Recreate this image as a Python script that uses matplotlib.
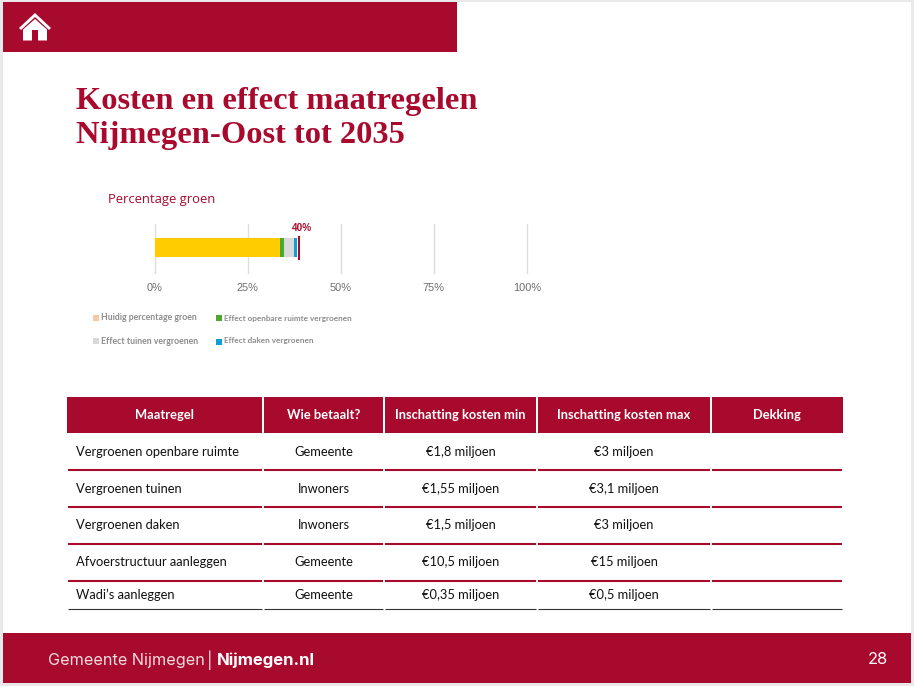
import matplotlib
matplotlib.use("Agg")
import matplotlib.pyplot as plt
from matplotlib.patches import Polygon, Rectangle

RED = "#A80A2D"
W, H = 914, 686

# chart data
segment_names = ["Huidig percentage groen (rand)", "Huidig percentage groen",
                 "Effect openbare ruimte vergroenen", "Effect tuinen vergroenen",
                 "Effect daken vergroenen"]
segment_values = [0.2, 33.5, 1.1, 2.7, 0.8]
segment_colors = ["#F6C6A8", "#FFCC00", "#4EA72E", "#D9D9D9", "#0F9ED5"]
target_value = 38.8
target_label = "40%"
x_ticks = [0, 25, 50, 75, 100]
x_tick_labels = ["0%", "25%", "50%", "75%", "100%"]

legend_labels = ["Huidig percentage groen", "Effect openbare ruimte vergroenen",
                 "Effect tuinen vergroenen", "Effect daken vergroenen"]
legend_colors = ["#F6C6A8", "#4EA72E", "#D9D9D9", "#0F9ED5"]

# table data
table_header = ["Maatregel", "Wie betaalt?", "Inschatting kosten min",
                "Inschatting kosten max", "Dekking"]
measures = ["Vergroenen openbare ruimte", "Vergroenen tuinen", "Vergroenen daken",
            "Afvoerstructuur aanleggen", "Wadi\u2019s aanleggen"]
payers = ["Gemeente", "Inwoners", "Inwoners", "Gemeente", "Gemeente"]
cost_min = ["\u20ac1,8 miljoen", "\u20ac1,55 miljoen", "\u20ac1,5 miljoen",
            "\u20ac10,5 miljoen", "\u20ac0,35 miljoen"]
cost_max = ["\u20ac3 miljoen", "\u20ac3,1 miljoen", "\u20ac3 miljoen",
            "\u20ac15 miljoen", "\u20ac0,5 miljoen"]

col_edges = [67, 263, 384, 537, 711, 843]
row_lines = [433, 470, 507, 544, 581, 609]
row_text_y = [452, 489, 525, 562, 595]


def px(size):
    # font size in pixels to points at dpi 100
    return size * 0.72


fig = plt.figure(figsize=(W / 100, H / 100), dpi=100, facecolor="#E9E9E9")

# slide canvas in pixel coordinates
slide = fig.add_axes([0, 0, 1, 1])
slide.set_xlim(0, W)
slide.set_ylim(H, 0)
slide.axis("off")

slide.add_patch(Rectangle((3, 2), 908, 681, color="white", lw=0))
slide.add_patch(Rectangle((3, 2), 454, 50, color=RED, lw=0))
slide.add_patch(Rectangle((3, 633), 908, 50, color=RED, lw=0))

# home icon
slide.add_patch(Polygon([(19, 28), (35, 13), (51, 28), (49, 30), (35, 17), (21, 30)],
                        color="white", lw=0))
slide.add_patch(Polygon([(23, 29.5), (35, 19), (47, 29.5), (47, 40.5), (38, 40.5), (38, 30),
                         (32, 30), (32, 40.5), (23, 40.5)], color="white", lw=0))

slide.text(76, 102, "Kosten en effect maatregelen", fontsize=px(32.5), fontweight="bold",
           family="Liberation Serif", color=RED, va="center")
slide.text(76, 135, "Nijmegen-Oost tot 2035", fontsize=px(32.5), fontweight="bold",
           family="Liberation Serif", color=RED, va="center")
slide.text(108, 199, "Percentage groen", fontsize=px(13), family="Open Sans",
           color=RED, va="center")

# legend
legend_pos = [(93, 318, 101, 317), (216, 318, 224, 318), (93, 341, 101, 342), (216, 342, 224, 341)]
legend_sizes = [8.8, 8.15, 8.8, 8.2]
for label, colour, size, (bx, by, tx, ty) in zip(legend_labels, legend_colors, legend_sizes, legend_pos):
    slide.add_patch(Rectangle((bx, by - 3), 6, 6, color=colour, lw=0))
    slide.text(tx, ty, label, fontsize=px(size), family="Lato", fontweight="bold",
               color="#8C8C8C", va="center")

# table
for i, name in enumerate(table_header):
    left, right = col_edges[i], col_edges[i + 1]
    gap = 1 if i > 0 else 0
    slide.add_patch(Rectangle((left + gap, 397), right - left - gap - (1 if i < 4 else 0), 36,
                              color=RED, lw=0))
    slide.text((left + right) / 2, 415, name, fontsize=px(12.9), fontweight="bold",
               family="Lato", color="white", ha="center", va="center")

for n, y in enumerate(row_lines[1:]):
    last = n == len(row_lines) - 2
    for i in range(5):
        slide.plot([col_edges[i] + 1, col_edges[i + 1] - 1], [y, y],
                   color="#333333" if last else RED, lw=0.8 if last else 1.5,
                   solid_capstyle="butt")

for i, y in enumerate(row_text_y):
    slide.text(76, y, measures[i], fontsize=px(12.9), family="Lato", color="#111111", va="center")
    slide.text(323.5, y, payers[i], fontsize=px(12.9), family="Lato", color="#111111",
               ha="center", va="center")
    slide.text(460.5, y, cost_min[i], fontsize=px(12.9), family="Lato", color="#111111",
               ha="center", va="center")
    slide.text(624, y, cost_max[i], fontsize=px(12.9), family="Lato", color="#111111",
               ha="center", va="center")

# footer
slide.text(48, 660, "Gemeente Nijmegen", fontsize=px(16.2), family="Inter",
           color="#F3DDE2", va="center")
slide.text(210, 660, "|", fontsize=px(16.2), family="Inter", color="#F3DDE2",
           ha="center", va="center")
slide.text(217, 660, "Nijmegen.nl", fontsize=px(16.7), family="Inter", fontweight="bold",
           color="white", va="center")
slide.text(878, 660, "28", fontsize=px(16.5), family="Inter", color="white",
           ha="center", va="center")

# stacked bar
ax = fig.add_axes([154.5 / W, 1 - 273 / H, (527 - 154.5) / W, 49 / H])
ax.patch.set_alpha(0)
ax.set_xlim(0, 100)
ax.set_ylim(-1, 1)
left = 0
for name, value, colour in zip(segment_names, segment_values, segment_colors):
    ax.barh(0.04, value, left=left, height=0.78, color=colour, label=name, zorder=3)
    left += value
ax.plot([target_value, target_value], [-0.47, 0.5], color=RED, lw=1.5, zorder=4,
        solid_capstyle="butt")
ax.text(target_value + 0.75, 0.84, target_label, fontsize=px(10), fontweight="bold",
        family="Liberation Sans", color=RED, ha="center", va="center")
ax.set_xticks(x_ticks)
ax.set_xticklabels(x_tick_labels, fontsize=px(11), family="Liberation Sans", color="#6E6E6E")
ax.set_yticks([])
ax.tick_params(axis="x", length=0, pad=7)
ax.grid(True, axis="x", color="#DDDDDD", lw=1, zorder=0, clip_on=False)
for spine in ax.spines.values():
    spine.set_visible(False)

fig.savefig("out.png", dpi=100, facecolor=fig.get_facecolor())
plt.close(fig)
